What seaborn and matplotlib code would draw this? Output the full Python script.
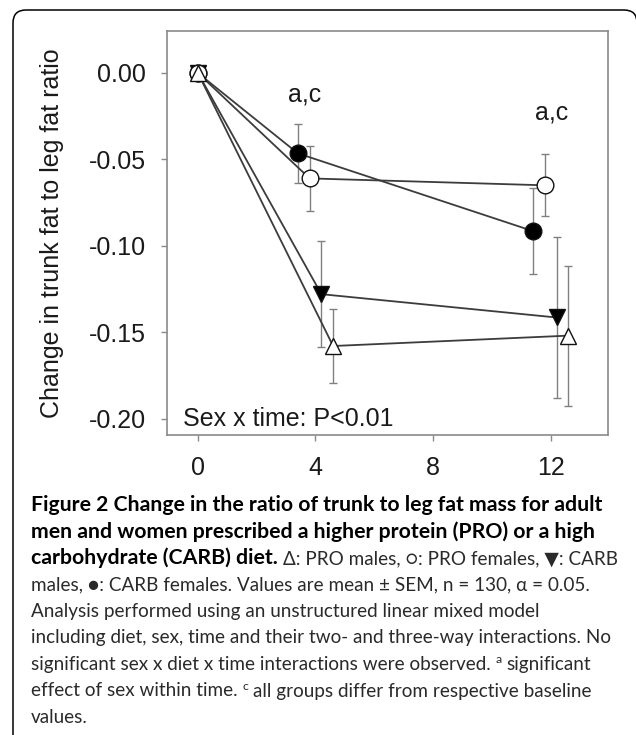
import pandas as pd
import seaborn as sns
import matplotlib
matplotlib.use('Agg')
import matplotlib.pyplot as plt
from matplotlib.patches import FancyBboxPatch

# weeks of follow-up and group means / SEM
weeks = [0, 4, 12]
pro_males = [0.0, -0.158, -0.152]
pro_males_sem = [0.0, 0.0215, 0.0405]
pro_females = [0.0, -0.061, -0.065]
pro_females_sem = [0.0, 0.019, 0.018]
carb_males = [0.0, -0.128, -0.1415]
carb_males_sem = [0.0, 0.0305, 0.0465]
carb_females = [0.0, -0.0465, -0.0915]
carb_females_sem = [0.0, 0.017, 0.025]

x_ticks = [0, 4, 8, 12]
y_ticks = [0.00, -0.05, -0.10, -0.15, -0.20]
sig_label = 'a,c'
stat_note = 'Sex x time: P<0.01'
y_label = 'Change in trunk fat to leg fat ratio'

caption = [
    [('Figure 2 Change in the ratio of trunk to leg fat mass for adult', 'b')],
    [('men and women prescribed a higher protein (PRO) or a high', 'b')],
    [('carbohydrate (CARB) diet.', 'b'), (' \u0394: PRO males, \u25cb: PRO females, \u25bc: CARB', 'r')],
    [('males, \u25cf: CARB females. Values are mean \u00b1 SEM, n = 130, \u03b1 = 0.05.', 'r')],
    [('Analysis performed using an unstructured linear mixed model', 'r')],
    [('including diet, sex, time and their two- and three-way interactions. No', 'r')],
    [('significant sex x diet x time interactions were observed. ', 'r'), ('a', 's'), (' significant', 'r')],
    [('effect of sex within time. ', 'r'), ('c', 's'), (' all groups differ from respective baseline', 'r')],
    [('values.', 'r')],
]

# group styling: marker, face colour, horizontal dodge
styles = {
    'CARB females': dict(marker='o', face='black', dodge=-0.6),
    'PRO females': dict(marker='o', face='white', dodge=-0.2),
    'CARB males': dict(marker='v', face='black', dodge=0.2),
    'PRO males': dict(marker='^', face='white', dodge=0.6),
}

W, H = 636, 735


def build_frame():
    # filled groups first so the open markers sit on top at baseline
    series = [('CARB females', carb_females, carb_females_sem),
              ('CARB males', carb_males, carb_males_sem),
              ('PRO females', pro_females, pro_females_sem),
              ('PRO males', pro_males, pro_males_sem)]
    rows = []
    for name, means, sems in series:
        for w, m, s in zip(weeks, means, sems):
            rows.append({'group': name, 'week': w, 'mean': m, 'sem': s})
    df = pd.DataFrame(rows)
    df['x'] = df['week'] + df['group'].map(lambda g: styles[g]['dodge']) * (df['week'] > 0)
    return df


def plot_chart(fig, df):
    ax = fig.add_axes([167 / W, 1 - 435 / H, 441 / W, 404 / H])
    for name, sub in df.groupby('group', sort=False):
        st = styles[name]
        err = sub[sub['week'] > 0]
        ax.errorbar(err['x'], err['mean'], yerr=err['sem'], fmt='none',
                    ecolor='#808080', elinewidth=1.0, capsize=3.2, capthick=1.0, zorder=2)
        sns.lineplot(data=sub, x='x', y='mean', ax=ax, estimator=None, sort=False,
                     color='#3c3c3c', linewidth=1.3, marker=st['marker'], markersize=12,
                     markerfacecolor=st['face'], markeredgecolor='#111111',
                     markeredgewidth=1.0, zorder=3)

    ax.set_xlim(-1.05, 13.95)
    ax.set_ylim(-0.2095, 0.0243)
    ax.set_xticks(x_ticks, labels=[str(v) for v in x_ticks])
    ax.set_yticks(y_ticks, labels=[f'{v:.2f}' for v in y_ticks])
    ax.set_xlabel('')
    ax.set_ylabel(y_label, fontsize=18, color='#1a1a1a')
    ax.yaxis.set_label_coords(-0.234, 0.5)
    ax.tick_params(bottom=True, left=True, direction='out', length=4, width=1,
                   color='#8a8a8a', labelsize=18, labelcolor='#1a1a1a', pad=11)
    for sp in ax.spines.values():
        sp.set_color('#8a8a8a')
        sp.set_linewidth(1.2)
        sp.set_visible(True)

    ax.text(3.64, -0.0127, sig_label, fontsize=18, ha='center', va='center', color='#1a1a1a')
    ax.text(12.04, -0.0226, sig_label, fontsize=18, ha='center', va='center', color='#1a1a1a')
    ax.text(-0.5, -0.2, stat_note, fontsize=18, ha='left', va='center', color='#1a1a1a')
    return ax


def plot_caption(fig):
    renderer = fig.canvas.get_renderer()
    fam = ['Lato', 'DejaVu Sans']
    bold = dict(family=fam, weight='bold', color='black')
    reg = dict(family=fam, color='#2a2a2a')

    def width(s, props, size):
        t = fig.text(0, 0, s, fontsize=size, **props)
        w = t.get_window_extent(renderer).width
        t.remove()
        return w

    # fit font sizes to the line widths seen in the figure
    reg_size = 14 * 582 / width(caption[5][0][0], reg, 14)
    bold_size = 14 * 576 / width(caption[0][0][0], bold, 14)
    kinds = {'b': (bold, bold_size), 'r': (reg, reg_size), 's': (reg, reg_size * 0.65)}

    x0, base0, step = 31, 511, 26.5
    for i, runs in enumerate(caption):
        x = x0
        base = base0 + i * step
        for s, k in runs:
            props, size = kinds[k]
            sp = width('n n', props, size) - width('nn', props, size)
            lead = len(s) - len(s.lstrip(' '))
            trail = len(s) - len(s.rstrip(' '))
            core = s.strip(' ')
            x += lead * sp
            rise = 7 if k == 's' else 0
            t = fig.text(x / W, 1 - (base - rise) / H, core, fontsize=size,
                         ha='left', va='baseline', **props)
            x += t.get_window_extent(renderer).width + trail * sp


def main():
    sns.set_theme(style='white')
    plt.rcParams['font.family'] = ['Liberation Sans', 'DejaVu Sans']

    fig = plt.figure(figsize=(W / 100, H / 100), dpi=100)
    bg = fig.add_axes([0, 0, 1, 1], zorder=-1)
    bg.set_xlim(0, W)
    bg.set_ylim(H, 0)
    bg.axis('off')
    bg.add_patch(FancyBboxPatch((13, 10), 624, 760, boxstyle='round,pad=0,rounding_size=13',
                                fill=False, ec='black', lw=1.1))

    df = build_frame()
    plot_chart(fig, df)
    plot_caption(fig)

    fig.savefig('out.png', dpi=100)
    plt.close(fig)


if __name__ == '__main__':
    main()
